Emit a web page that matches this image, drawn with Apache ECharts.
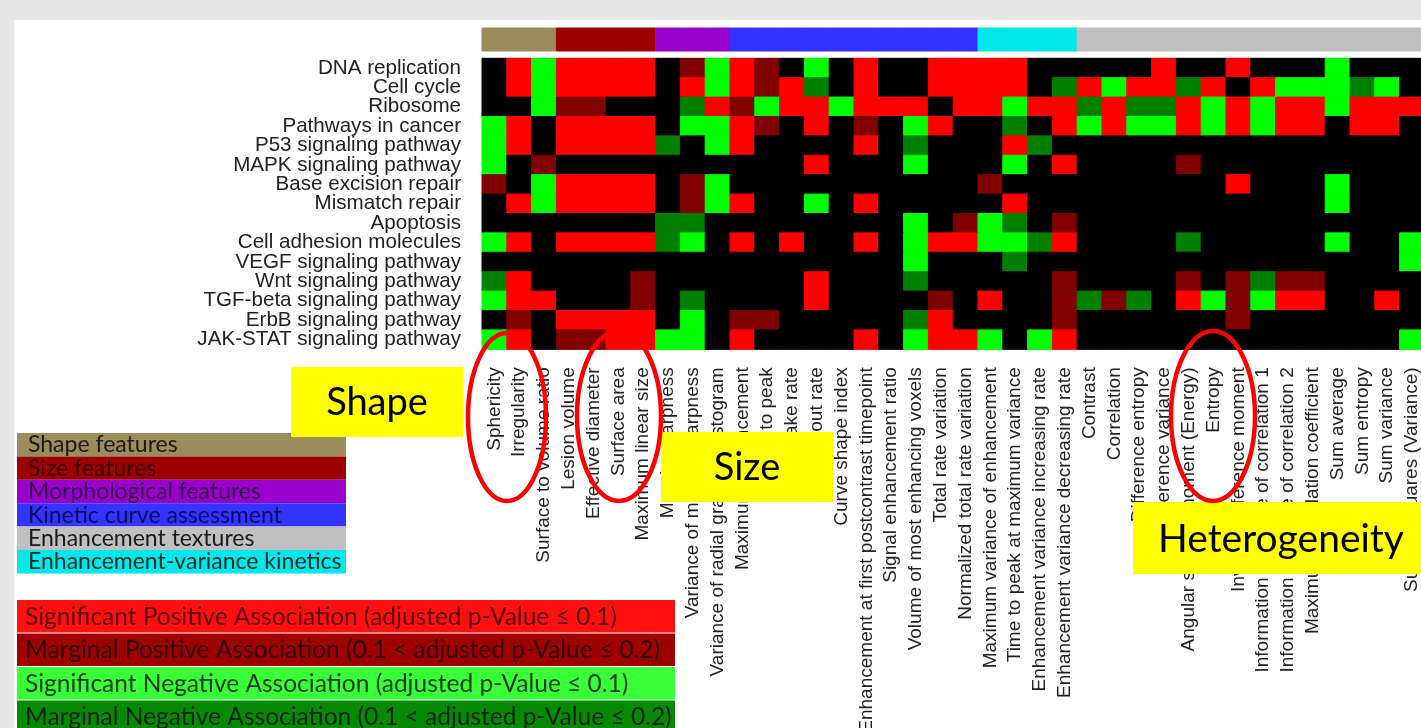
<!DOCTYPE html>
<html>
<head>
<meta charset="utf-8">
<script src="https://cdn.jsdelivr.net/npm/echarts@6/dist/echarts.min.js"></script>
<style>
  html, body { margin: 0; padding: 0; background: #e7e7e7; }
  #chart { width: 1421px; height: 728px; }
</style>
</head>
<body>
<div id="chart"></div>
<script>
// KEGG pathways (rows, top to bottom)
const pathways = [
  'DNA replication', 'Cell cycle', 'Ribosome', 'Pathways in cancer',
  'P53 signaling pathway', 'MAPK signaling pathway', 'Base excision repair',
  'Mismatch repair', 'Apoptosis', 'Cell adhesion molecules',
  'VEGF signaling pathway', 'Wnt signaling pathway', 'TGF-beta signaling pathway',
  'ErbB signaling pathway', 'JAK-STAT signaling pathway'
];

// Radiomic features (columns, left to right)
const features = [
  'Sphericity', 'Irregularity', 'Surface to volume ratio',
  'Lesion volume', 'Effective diameter', 'Surface area', 'Maximum linear size',
  'Margin sharpness', 'Variance of margin sharpness', 'Variance of radial gradient histogram',
  'Maximum enhancement', 'Time to peak', 'Uptake rate', 'Washout rate', 'Curve shape index',
  'Enhancement at first postcontrast timepoint', 'Signal enhancement ratio',
  'Volume of most enhancing voxels', 'Total rate variation', 'Normalized total rate variation',
  'Maximum variance of enhancement', 'Time to peak at maximum variance',
  'Enhancement variance increasing rate', 'Enhancement variance decreasing rate',
  'Contrast', 'Correlation', 'Difference entropy', 'Difference variance',
  'Angular second moment (Energy)', 'Entropy', 'Inverse difference moment',
  'Information measure of correlation 1', 'Information measure of correlation 2',
  'Maximum correlation coefficient', 'Sum average', 'Sum entropy', 'Sum variance',
  'Sum of squares (Variance)'
];

// Feature categories and the category of each feature column
const groupNames = [
  'Shape features', 'Size features', 'Morphological features',
  'Kinetic curve assessment', 'Enhancement textures', 'Enhancement-variance kinetics'
];
const groupColors = ['#9c8b5b', '#9c0000', '#9900cc', '#3333ff', '#c0c0c0', '#00e8e8'];
const groupTextColors = ['#1a1a1a', '#3a0000', '#33004a', '#0c0c5a', '#1a1a1a', '#0a2a2a'];
const featureGroup = [
  0, 0, 0,
  1, 1, 1, 1,
  2, 2, 2,
  3, 3, 3, 3, 3, 3, 3, 3, 3, 3,
  5, 5, 5, 5,
  4, 4, 4, 4, 4, 4, 4, 4, 4, 4, 4, 4, 4, 4
];

// Association codes: 2 significant positive, 1 marginal positive,
// 0 none, -1 marginal negative, -2 significant negative
const associations = [
  [0, 2,-2, 2, 2, 2, 2, 0, 1,-2, 2, 1, 0,-2, 0, 2, 0, 0, 2, 2, 2, 2, 0, 0, 0, 0, 0, 2, 0, 0, 2, 0, 0, 0,-2, 0, 0, 0],
  [0, 2,-2, 2, 2, 2, 2, 0, 2,-2, 2, 1, 2,-1, 0, 2, 0, 0, 2, 2, 2, 2, 0,-1, 2,-2, 2, 2,-1, 2, 0, 2,-2,-2,-2,-1,-2, 0],
  [0, 0,-2, 1, 1, 0, 0, 0,-1, 2, 1,-2, 2, 2,-2, 2, 2, 2, 0, 2, 2,-2, 2, 2,-1, 2,-1,-1, 2,-2, 2,-2, 2, 2,-2, 2, 2, 2],
  [-2, 2, 0, 2, 2, 2, 2, 0,-2,-2, 2, 1, 0, 2, 0, 1, 0,-2, 2, 0, 0,-1, 0, 2,-2, 2,-2,-2, 2,-2, 2,-2, 2, 2, 0, 2, 2, 0],
  [-2, 2, 0, 2, 2, 2, 2,-1, 0,-2, 2, 0, 0, 0, 0, 2, 0,-1, 0, 0, 0, 2,-1, 0, 0, 0, 0, 0, 0, 0, 0, 0, 0, 0, 0, 0, 0, 0],
  [-2, 0, 1, 0, 0, 0, 0, 0, 0, 0, 0, 0, 0, 2, 0, 0, 0,-2, 0, 0, 0,-2, 0, 2, 0, 0, 0, 0, 1, 0, 0, 0, 0, 0, 0, 0, 0, 0],
  [1, 0,-2, 2, 2, 2, 2, 0, 1,-2, 0, 0, 0, 0, 0, 0, 0, 0, 0, 0, 1, 0, 0, 0, 0, 0, 0, 0, 0, 0, 2, 0, 0, 0,-2, 0, 0, 0],
  [0, 2,-2, 2, 2, 2, 2, 0, 1,-2, 2, 0, 0,-2, 0, 2, 0, 0, 0, 0, 0, 2, 0, 0, 0, 0, 0, 0, 0, 0, 0, 0, 0, 0,-2, 0, 0, 0],
  [0, 0, 0, 0, 0, 0, 0,-1,-1, 0, 0, 0, 0, 0, 0, 0, 0,-2, 0, 1,-2,-1, 0, 1, 0, 0, 0, 0, 0, 0, 0, 0, 0, 0, 0, 0, 0, 0],
  [-2, 2, 0, 2, 2, 2, 2,-1,-2, 0, 2, 0, 2, 0, 0, 2, 0,-2, 2, 2,-2,-2,-1, 2, 0, 0, 0, 0,-1, 0, 0, 0, 0, 0,-2, 0, 0,-2],
  [0, 0, 0, 0, 0, 0, 0, 0, 0, 0, 0, 0, 0, 0, 0, 0, 0,-2, 0, 0, 0,-1, 0, 0, 0, 0, 0, 0, 0, 0, 0, 0, 0, 0, 0, 0, 0,-2],
  [-1, 2, 0, 0, 0, 0, 1, 0, 0, 0, 0, 0, 0, 2, 0, 0, 0,-1, 0, 0, 0, 0, 0, 1, 0, 0, 0, 0, 1, 0, 1,-1, 1, 1, 0, 0, 0, 0],
  [-2, 2, 2, 0, 0, 0, 1, 0,-1, 0, 0, 0, 0, 2, 0, 0, 0, 0, 1, 0, 2, 0, 0, 1,-1, 1,-1, 0, 2,-2, 1,-2, 2, 2, 0, 0, 2, 0],
  [0, 1, 0, 2, 2, 2, 2, 0,-2, 0, 1, 1, 0, 0, 0, 0, 0,-1, 2, 0, 0, 0, 0, 1, 0, 0, 0, 0, 0, 0, 1, 0, 0, 0, 0, 0, 0, 0],
  [-2, 2, 0, 1, 1, 2, 2,-2,-2, 0, 2, 0, 0, 0, 0, 2, 0,-2, 2, 2,-2, 0,-2, 2, 0, 0, 0, 0, 0, 0, 0, 0, 0, 0, 0, 0, 0,-2]
];

// Association levels: heatmap colours and legend entries
const levelCodes = [2, 1, -2, -1, 0];
const cellColors = ['#ff0000', '#800000', '#00ff00', '#008000', '#000000'];
const legendLabels = [
  'Significant Positive Association (adjusted p-Value \u2264 0.1)',
  'Marginal Positive Association (0.1 < adjusted p-Value \u2264 0.2)',
  'Significant Negative Association (adjusted p-Value \u2264 0.1)',
  'Marginal Negative Association (0.1 < adjusted p-Value \u2264 0.2)'
];
const legendColors = ['#ff1010', '#9e0000', '#38ff38', '#068a06'];
const legendTextColors = ['#5a0000', '#2e0000', '#0a3a0a', '#002200'];

// Highlight callouts
const callouts = [
  { text: 'Shape', x: 291, y: 367, w: 172, h: 70, tx: 377 },
  { text: 'Size', x: 661, y: 432, w: 172, h: 70, tx: 747 },
  { text: 'Heterogeneity', x: 1133, y: 502, w: 296, h: 72, tx: 1281 }
];
const rings = [
  { cx: 507, cy: 417, rx: 39, ry: 84 },
  { cx: 619, cy: 416, rx: 42, ry: 85 },
  { cx: 1213, cy: 416, rx: 42, ry: 85 }
];

const cellData = [];
associations.forEach((row, r) => row.forEach((v, c) => cellData.push([c, r, v])));
const groupData = featureGroup.map((g, c) => [c, 0, g]);

const colW = 24.8, gridLeft = 482;
const gridWidth = colW * features.length;
const calibriLike = 'Lato, "Noto Sans", sans-serif';
const arialLike = '"Liberation Sans", Arial, sans-serif';

// one filled tile per data item, sized by the category bands
function tileRenderer(colorOf) {
  return function (params, api) {
    const p = api.coord([api.value(0), api.value(1)]);
    const s = api.size([1, 1]);
    const color = colorOf(api.value(2));
    return {
      type: 'rect',
      shape: { x: p[0] - s[0] / 2, y: p[1] - s[1] / 2, width: s[0], height: s[1] },
      style: { fill: color, stroke: color, lineWidth: 1 }
    };
  };
}

const graphics = [
  { type: 'rect', z: -10, shape: { x: 14, y: 20, width: 1407, height: 708 }, style: { fill: '#ffffff' } }
];
// feature-category legend
groupNames.forEach((name, i) => {
  const y = 433 + i * 23.4;
  graphics.push({ type: 'rect', z: 5, shape: { x: 17, y: y, width: 329, height: 23.4 }, style: { fill: groupColors[i] } });
  graphics.push({ type: 'text', z: 6, x: 28, y: y + 12, style: { text: name, fill: groupTextColors[i], fontSize: 23, fontFamily: calibriLike, verticalAlign: 'middle' } });
});
// association legend
legendLabels.forEach((label, i) => {
  const y = 600 + i * 33.5;
  graphics.push({ type: 'rect', z: 5, shape: { x: 17, y: y, width: 658, height: 32.5 }, style: { fill: legendColors[i] } });
  graphics.push({ type: 'text', z: 6, x: 25, y: y + 17, style: { text: label, fill: legendTextColors[i], fontSize: 24.5, fontFamily: calibriLike, verticalAlign: 'middle' } });
});
// callout boxes
callouts.forEach(b => {
  graphics.push({ type: 'rect', z: 100, shape: { x: b.x, y: b.y, width: b.w, height: b.h }, style: { fill: '#ffff00' } });
  graphics.push({ type: 'text', z: 101, x: b.tx, y: b.y + b.h / 2 + 1, style: { text: b.text, fill: '#000', fontSize: b.text === 'Heterogeneity' ? 39 : 38, fontFamily: calibriLike, align: 'center', verticalAlign: 'middle' } });
});
rings.forEach(e => {
  graphics.push({ type: 'ellipse', z: 102, shape: { cx: e.cx, cy: e.cy, rx: e.rx, ry: e.ry }, style: { fill: 'none', stroke: '#ff0000', lineWidth: 4.5 } });
});

const chart = echarts.init(document.getElementById('chart'), null, { renderer: 'canvas' });
chart.setOption({
  backgroundColor: '#e7e7e7',
  animation: false,
  grid: [
    { left: gridLeft, top: 58.3, width: gridWidth, height: 291, outerBoundsMode: 'none', containLabel: false,
      show: true, backgroundColor: '#000000', borderWidth: 0 },
    { left: gridLeft, top: 28, width: gridWidth, height: 23, outerBoundsMode: 'none', containLabel: false }
  ],
  xAxis: [
    {
      type: 'category', gridIndex: 0, data: features, position: 'bottom',
      axisLine: { show: false }, axisTick: { show: false }, splitLine: { show: false },
      axisLabel: { interval: 0, rotate: 90, margin: 18, fontSize: 19, color: '#222', fontFamily: arialLike }
    },
    { type: 'category', gridIndex: 1, data: features, show: false }
  ],
  yAxis: [
    {
      type: 'category', gridIndex: 0, data: pathways, inverse: true,
      axisLine: { show: false }, axisTick: { show: false }, splitLine: { show: false },
      axisLabel: { interval: 0, margin: 21, fontSize: 20.6, color: '#222', fontFamily: arialLike }
    },
    { type: 'category', gridIndex: 1, data: ['category'], show: false }
  ],
  series: [
    {
      type: 'custom', xAxisIndex: 0, yAxisIndex: 0, data: cellData,
      renderItem: tileRenderer(v => cellColors[levelCodes.indexOf(v)]),
      emphasis: { disabled: true }
    },
    {
      type: 'custom', xAxisIndex: 1, yAxisIndex: 1, data: groupData,
      renderItem: tileRenderer(g => groupColors[g]),
      emphasis: { disabled: true }
    }
  ],
  graphic: graphics
});
</script>
</body>
</html>
